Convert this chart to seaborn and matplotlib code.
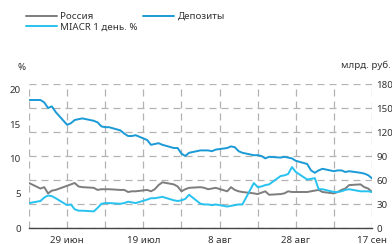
import numpy as np
import pandas as pd
import matplotlib
matplotlib.use("Agg")
import matplotlib.pyplot as plt
import seaborn as sns

# ---- data ----
dates = pd.bdate_range("2020-06-19", "2020-09-17")
russia = [6.5,
          5.7, 5.9, 5.0, 5.4, 5.5,
          6.1, 6.3, 6.5, 6.0, 5.9,
          5.8, 5.5, 5.6, 5.6, 5.6,
          5.5, 5.5, 5.2, 5.3, 5.3,
          5.5, 5.3, 5.6, 6.2, 6.6,
          6.3, 6.0, 5.3, 5.6, 5.8,
          5.9, 5.8, 5.6, 5.7, 5.8,
          5.3, 5.9, 5.5, 5.3, 5.2,
          5.0, 4.9, 5.1, 5.3, 4.8,
          4.9, 5.0, 5.3, 5.2, 5.2,
          5.2, 5.3, 5.4, 5.5, 5.2,
          5.0, 5.2, 5.5, 5.7, 6.2,
          6.3, 5.9, 5.7, 5.2]
deposits = [160,
            160, 157, 150, 152, 145,
            129, 131, 135, 136, 137,
            134, 132, 127, 126, 126,
            122, 118, 115, 115, 116,
            110, 104, 105, 106, 104,
            100, 100, 93, 90, 94,
            97, 97, 97, 96, 98,
            100, 102, 101, 96, 94,
            91, 91, 90, 87, 89,
            88, 89, 88, 87, 84,
            80, 72, 69, 72, 74,
            71, 72, 72, 70, 71,
            69, 68, 66, 62]
miacr = [3.6,
         3.9, 4.4, 4.7, 4.6, 4.3,
         3.3, 3.4, 2.7, 2.5, 2.5,
         2.4, 2.9, 3.5, 3.6, 3.6,
         3.5, 3.6, 3.8, 3.7, 3.6,
         4.1, 4.3, 4.3, 4.4, 4.5,
         4.0, 3.9, 4.0, 4.2, 4.8,
         3.5, 3.4, 3.4, 3.3, 3.4,
         3.1, 3.2, 3.3, 3.4, 3.4,
         6.5, 5.9, 6.0, 6.2, 6.3,
         7.5, 7.6, 7.8, 8.8, 8.1,
         7.0, 7.1, 7.2, 5.6, 5.6,
         5.2, 5.2, 5.3, 5.5, 5.6,
         5.3, 5.3, 5.3, 5.2]

x_ticks = pd.date_range("2020-06-19", "2020-09-17", freq="10D")
x_labels = ["", "29 июн", "", "19 июл", "", "8 авг", "", "28 авг", "", "17 сен"]
left_ticks = [0, 5, 10, 15, 20]
right_ticks = [0, 30, 60, 90, 120, 150, 180]

name_ru = "Россия"
name_dep = "Депозиты"
name_mi = "MIACR 1 день. %"
left_unit = "%"
right_unit = "млрд. руб."

df = pd.DataFrame({"date": dates, name_ru: russia, name_dep: deposits, name_mi: miacr})

# ---- style ----
sns.set_style("white")
plt.rcParams["font.family"] = ["Noto Sans", "DejaVu Sans"]
txt_color = "#333333"
c_ru = "#7d7d7d"
c_dep = "#1a9ad6"
c_mi = "#27c2ef"
grid_kw = dict(color="#b3b3b3", linewidth=0.9, linestyle=(0, (5.6, 4)))

fig = plt.figure(figsize=(3.92, 2.44), dpi=100)
ax = fig.add_axes([29 / 392, 16 / 244, 343 / 392, 144 / 244])
ax2 = ax.twinx()

# vertical grid drawn on the lower (right-scale) axes, below all lines
for xt in x_ticks:
    ax2.axvline(xt, zorder=0.5, **grid_kw)

sns.lineplot(data=df, x="date", y=name_dep, ax=ax2, color=c_dep, linewidth=1.4)
sns.lineplot(data=df, x="date", y=name_ru, ax=ax, color=c_ru, linewidth=1.4)
sns.lineplot(data=df, x="date", y=name_mi, ax=ax, color=c_mi, linewidth=1.4)

ax.set_zorder(ax2.get_zorder() + 1)
ax.patch.set_visible(False)

ax.set_xlim(x_ticks[0], x_ticks[-1])
ax.set_xticks(x_ticks)
ax.set_xticklabels(x_labels)
ax.set_ylim(0, 20.8)
ax.set_yticks(left_ticks)
ax2.set_ylim(0, 180)
ax2.set_yticks(right_ticks)

for a in (ax, ax2):
    a.set_xlabel("")
    a.set_ylabel("")
    for s in a.spines.values():
        s.set_visible(False)
ax.spines["bottom"].set_visible(True)
ax.spines["bottom"].set_color("#444444")
ax.spines["bottom"].set_linewidth(1.0)

ax.grid(False)
ax2.grid(True, axis="y", **grid_kw)
ax2.set_axisbelow(True)

ax.tick_params(axis="x", length=3.5, width=1, color="#444444", direction="out",
               labelsize=7, labelcolor=txt_color, pad=2)
ax.tick_params(axis="y", length=0, labelsize=7, labelcolor=txt_color, pad=6)
ax2.tick_params(axis="y", length=0, labelsize=7, labelcolor=txt_color, pad=3)

fig.text(22 / 392, 1 - 67 / 244, left_unit, ha="center", va="center",
         fontsize=7, color=txt_color)
fig.text(391 / 392, 1 - 65 / 244, right_unit, ha="right", va="center",
         fontsize=7, color=txt_color)

h_ru = ax.get_lines()[0]
h_mi = ax.get_lines()[1]
h_dep = ax2.get_lines()[-1]
fig.legend([h_ru, h_mi, h_dep], [name_ru, name_mi, name_dep], ncol=2,
           loc="upper left", bbox_to_anchor=(26 / 392, 1 - 12 / 244),
           frameon=False, fontsize=7, handlelength=3.2, handletextpad=0.3,
           columnspacing=0.6, labelspacing=0.15, borderpad=0, borderaxespad=0,
           labelcolor=txt_color)

fig.savefig("out.png", dpi=100)
